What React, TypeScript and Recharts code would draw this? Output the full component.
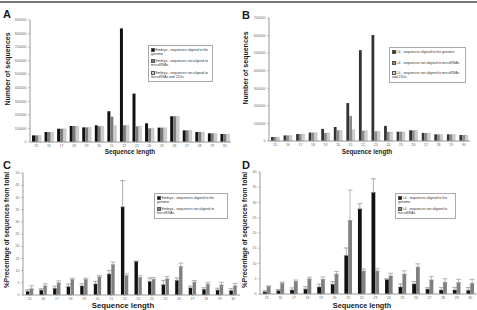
import React from "react";
import { BarChart, Bar, XAxis, YAxis, ErrorBar, Legend } from "recharts";

const lengths = ["15", "16", "17", "18", "19", "20", "21", "22", "23", "24", "25", "26", "27", "28", "29", "30"];

// A: embryo read counts
const embryoGenome = [49000, 74000, 98000, 118000, 108000, 123000, 227000, 838000, 357000, 138000, 106000, 190000, 86000, 74000, 64000, 59000];
const embryoNoMirna = [49000, 74000, 98000, 118000, 108000, 116000, 187000, 123000, 116000, 101000, 106000, 190000, 86000, 74000, 64000, 59000];
const embryoNo21u = [48000, 72000, 97000, 117000, 107000, 116000, 121000, 123000, 116000, 101000, 105000, 189000, 85000, 73000, 63000, 58000];

// B: L4 read counts
const l4Genome = [23000, 32000, 40000, 48000, 69000, 80000, 216000, 517000, 603000, 86000, 53000, 61000, 46000, 38000, 38000, 34000];
const l4NoMirna = [23000, 32000, 40000, 48000, 46000, 61000, 143000, 59000, 55000, 52000, 53000, 61000, 46000, 38000, 38000, 34000];
const l4No21u = [22000, 31000, 39000, 47000, 46000, 60000, 63000, 59000, 55000, 51000, 52000, 60000, 45000, 37000, 37000, 33000];

// C: embryo percentages (+ upper error)
const embryoPctGenome = [1.5, 2.0, 2.7, 3.4, 3.7, 4.5, 8.6, 36.1, 13.7, 5.5, 4.2, 6.0, 2.9, 2.3, 2.0, 1.8];
const embryoPctGenomeErr = [0.7, 0.6, 0.9, 1.1, 0.9, 1.1, 1.4, 10.8, 0.2, 1.5, 1.8, 1.0, 0.8, 0.7, 0.8, 0.9];
const embryoPctNoMirna = [2.5, 3.7, 4.9, 6.3, 6.3, 7.4, 12.4, 7.9, 7.1, 6.4, 6.6, 11.6, 5.2, 4.4, 4.1, 3.7];
const embryoPctNoMirnaErr = [1.3, 0.9, 0.9, 0.6, 0.6, 0.7, 1.1, 0.8, 0.8, 0.8, 1.0, 1.5, 0.7, 0.8, 1.1, 1.0];

// D: L4 percentages (+ upper error)
const l4PctGenome = [0.7, 1.1, 1.3, 1.6, 2.3, 3.2, 12.6, 27.9, 33.3, 4.7, 2.3, 3.3, 1.6, 1.3, 1.3, 1.2];
const l4PctGenomeErr = [0.4, 0.4, 0.7, 0.8, 0.9, 0.9, 2.5, 1.7, 4.5, 0.3, 1.0, 0.8, 0.5, 0.8, 0.8, 0.9];
const l4PctNoMirna = [2.4, 3.5, 4.1, 4.9, 4.8, 6.5, 24.1, 7.5, 7.5, 5.9, 6.5, 8.8, 4.6, 3.8, 3.7, 3.5];
const l4PctNoMirnaErr = [0.3, 0.4, 0.5, 0.6, 0.8, 0.9, 10.0, 0.7, 0.8, 0.9, 1.1, 1.1, 1.1, 1.2, 1.1, 1.3];

const countTicksA = [0, 100000, 200000, 300000, 400000, 500000, 600000, 700000, 800000, 900000];
const countTicksB = [0, 100000, 200000, 300000, 400000, 500000, 600000, 700000];
const pctTicksC = [0, 5, 10, 15, 20, 25, 30, 35, 40, 45, 50];
const pctTicksD = [0, 5, 10, 15, 20, 25, 30, 35, 40];

const legendA = [
  ["Embryo - sequences aligned to the", "genome"],
  ["Embryo - sequences not aligned to", "microRNAs"],
  ["Embryo - sequences not aligned to", "microRNAs and 21Us"],
];
const legendB = [
  ["L4 - sequences aligned to the genome"],
  ["L4 - sequences not aligned to microRNAs"],
  ["L4 - sequences not aligned to microRNAs", "and 21Us"],
];
const legendC = [
  ["Embryo - sequences aligned to the", "genome"],
  ["Embryo - sequences not aligned to", "microRNAs"],
];
const legendD = [
  ["L4 - sequences aligned to the", "genome"],
  ["L4 - sequences not aligned to", "microRNAs"],
];

const countA = lengths.map((len, i) => ({ len, a: embryoGenome[i], b: embryoNoMirna[i], c: embryoNo21u[i] }));
const countB = lengths.map((len, i) => ({ len, a: l4Genome[i], b: l4NoMirna[i], c: l4No21u[i] }));
const pctC = lengths.map((len, i) => ({
  len,
  a: embryoPctGenome[i],
  aErr: [0, embryoPctGenomeErr[i]],
  b: embryoPctNoMirna[i],
  bErr: [0, embryoPctNoMirnaErr[i]],
}));
const pctD = lengths.map((len, i) => ({
  len,
  a: l4PctGenome[i],
  aErr: [0, l4PctGenomeErr[i]],
  b: l4PctNoMirna[i],
  bErr: [0, l4PctNoMirnaErr[i]],
}));

const font = "'Liberation Sans', Arial, sans-serif";
const tick = { fontSize: 3.5, fill: "#666", fontFamily: font };
const axisGray = "#999";

function Title({ x, y, size, rotate, children }: any) {
  return (
    <div
      style={{
        position: "absolute",
        left: x,
        top: y,
        transform: `translate(-50%, -50%)${rotate ? " rotate(-90deg)" : ""}`,
        fontSize: size,
        fontWeight: "bold",
        whiteSpace: "nowrap",
        lineHeight: 1,
        color: "#1a1a1a",
      }}
    >
      {children}
    </div>
  );
}

function legendBox(entries: string[][], colors: string[], gap: number) {
  return () => (
    <div style={{ border: "0.8px solid #aaa", background: "#fff", padding: "2px 2px", fontFamily: font }}>
      {entries.map((lines, i) => (
        <div key={i} style={{ marginTop: i === 0 ? 0 : gap, fontSize: 3.4, lineHeight: "3.8px", color: "#333" }}>
          {lines.map((t, j) => (
            <div key={j} style={{ whiteSpace: "nowrap" }}>
              {j === 0 && (
                <span
                  style={{
                    display: "inline-block",
                    width: 2,
                    height: 2,
                    marginRight: 0.6,
                    background: colors[i],
                    border: "0.3px solid #555",
                    verticalAlign: "middle",
                  }}
                />
              )}
              {t}
            </div>
          ))}
        </div>
      ))}
    </div>
  );
}

function CountPanel({ data, ticks, top, yWidth, right, barSize, colors, legend, legendPos }: any) {
  return (
    <BarChart
      width={legendPos.w}
      height={155}
      data={data}
      margin={{ top, right, bottom: 155 - top - legendPos.plotH - 8, left: 0 }}
      barGap={0}
    >
      <XAxis dataKey="len" interval={0} height={8} tick={tick} tickSize={1} stroke={axisGray} axisLine={{ stroke: axisGray }} />
      <YAxis
        width={yWidth}
        domain={[0, ticks[ticks.length - 1]]}
        ticks={ticks}
        interval={0}
        tick={tick}
        tickSize={1.5}
        stroke={axisGray}
      />
      <Legend
        layout="horizontal"
        verticalAlign="middle"
        align="center"
        wrapperStyle={{ left: legendPos.x, top: legendPos.y, width: legendPos.lw, height: "auto" }}
        content={legend}
      />
      <Bar dataKey="a" fill={colors[0]} barSize={barSize} isAnimationActive={false} />
      <Bar dataKey="b" fill={colors[1]} barSize={barSize} isAnimationActive={false} />
      <Bar dataKey="c" fill={colors[2]} stroke="#999" strokeWidth={0.3} barSize={barSize} isAnimationActive={false} />
    </BarChart>
  );
}

function PctPanel({ data, ticks, top, bottom, yWidth, width, barSize, barGap, legend, legendPos }: any) {
  return (
    <BarChart width={width} height={160} data={data} margin={{ top, right: 0, bottom, left: 0 }} barGap={barGap}>
      <XAxis dataKey="len" interval={0} height={8} tick={tick} tickSize={1} stroke={axisGray} axisLine={{ stroke: axisGray }} />
      <YAxis
        width={yWidth}
        domain={[0, ticks[ticks.length - 1]]}
        ticks={ticks}
        interval={0}
        tick={tick}
        tickSize={1.5}
        stroke={axisGray}
      />
      <Legend
        layout="horizontal"
        verticalAlign="middle"
        align="center"
        wrapperStyle={{ left: legendPos.x, top: legendPos.y, width: legendPos.lw, height: "auto" }}
        content={legend}
      />
      <Bar dataKey="a" fill="#111" barSize={barSize} isAnimationActive={false}>
        <ErrorBar dataKey="aErr" width={2.5} stroke="#777" strokeWidth={0.6} direction="y" />
      </Bar>
      <Bar dataKey="b" fill="#808080" barSize={barSize} isAnimationActive={false}>
        <ErrorBar dataKey="bErr" width={2.5} stroke="#888" strokeWidth={0.6} direction="y" />
      </Bar>
    </BarChart>
  );
}

export default function App() {
  return (
    <div style={{ position: "absolute", left: 0, top: 0, width: 477, height: 310, background: "#fff", fontFamily: font, overflow: "hidden" }}>
      <div style={{ position: "absolute", left: 0, top: 1, width: 477, height: 1.5, background: "#777" }} />

      <div style={{ position: "absolute", left: 0, top: 0 }}>
        <CountPanel
          data={countA}
          ticks={countTicksA}
          top={20}
          yWidth={30}
          right={9}
          barSize={3}
          colors={["#111", "#7a7a7a", "#cfcfcf"]}
          legend={legendBox(legendA, ["#111", "#7a7a7a", "#cfcfcf"], 3)}
          legendPos={{ w: 240, plotH: 122, x: 148, y: 45, lw: 65 }}
        />
      </div>
      <div style={{ position: "absolute", left: 238, top: 0 }}>
        <CountPanel
          data={countB}
          ticks={countTicksB}
          top={18}
          yWidth={31}
          right={7}
          barSize={2.8}
          colors={["#333", "#8a8a8a", "#cfcfcf"]}
          legend={legendBox(legendB, ["#333", "#8a8a8a", "#cfcfcf"], 6)}
          legendPos={{ w: 239, plotH: 123, x: 151, y: 47, lw: 77 }}
        />
      </div>
      <div style={{ position: "absolute", left: 0, top: 150 }}>
        <PctPanel
          data={pctC}
          ticks={pctTicksC}
          top={23}
          bottom={7}
          yWidth={23}
          width={240}
          barSize={3.4}
          barGap={0.5}
          legend={legendBox(legendC, ["#111", "#808080"], 3)}
          legendPos={{ x: 154, y: 43, lw: 74 }}
        />
      </div>
      <div style={{ position: "absolute", left: 238, top: 150 }}>
        <PctPanel
          data={pctD}
          ticks={pctTicksD}
          top={22}
          bottom={8}
          yWidth={22}
          width={239}
          barSize={3.8}
          barGap={0}
          legend={legendBox(legendD, ["#111", "#808080"], 3)}
          legendPos={{ x: 157, y: 43, lw: 61 }}
        />
      </div>

      <Title x={7} y={14} size={11}>A</Title>
      <Title x={246} y={15} size={11}>B</Title>
      <Title x={7} y={165} size={11}>C</Title>
      <Title x={246} y={165} size={11}>D</Title>

      <Title x={130} y={152} size={6.3}>Sequence length</Title>
      <Title x={367} y={152} size={6.3}>Sequence length</Title>
      <Title x={123} y={306} size={7.8}>Sequence length</Title>
      <Title x={362} y={306} size={7.3}>Sequence length</Title>

      <Title x={7} y={69} size={7} rotate>Number of sequences</Title>
      <Title x={245} y={68} size={7} rotate>Number of sequences</Title>
      <Title x={7} y={230} size={6.5} rotate>%Precentage of sequences from total</Title>
      <Title x={245} y={230} size={6.5} rotate>%Precentage of sequences from total</Title>
    </div>
  );
}
